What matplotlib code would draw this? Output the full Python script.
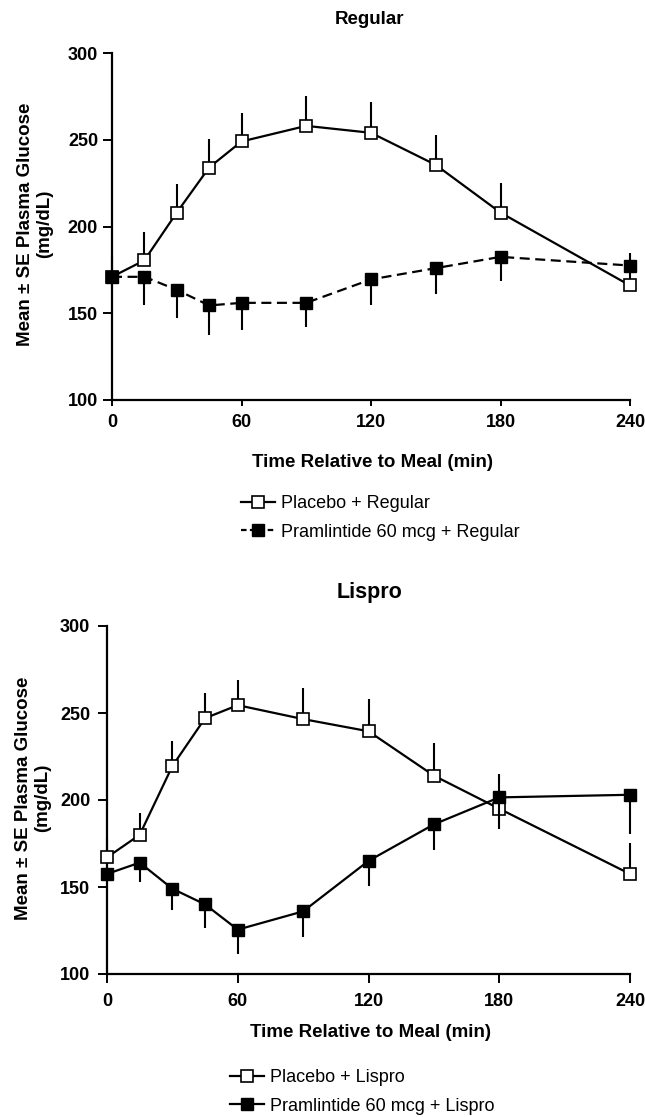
import numpy as np
import matplotlib
matplotlib.use("Agg")
import matplotlib.pyplot as plt
from matplotlib.lines import Line2D

plt.rcParams['font.family'] = ['Liberation Sans', 'DejaVu Sans']

time = np.array([0, 15, 30, 45, 60, 90, 120, 150, 180, 240])

# Regular insulin panel
placebo_reg = np.array([171, 180.5, 208, 234, 249, 258, 254, 235.5, 208, 166])
placebo_reg_se = np.array([12, 16.5, 16.5, 16.5, 16.5, 17, 18, 17, 17, 19])
pram_reg = np.array([171, 171, 163.5, 154.5, 156, 156, 169.5, 176, 182.5, 177.5])
pram_reg_se = np.array([0, 16.5, 16, 17, 15.5, 14, 15, 15, 14, 0])

# Lispro panel
placebo_lis = np.array([167, 180, 219.5, 247, 254.5, 246.5, 239.5, 214, 195, 157.5])
placebo_lis_se = np.array([11, 12.5, 14.5, 14.5, 14.5, 18, 18.5, 19, 20, 18])
pram_lis = np.array([157.5, 164, 149, 140, 125.5, 136, 165, 186, 201.5, 203])
pram_lis_se = np.array([0, 11, 12, 13.5, 14, 15, 14.5, 15, 18, 22.5])

xticks = [0, 60, 120, 180, 240]
yticks = [100, 150, 200, 250, 300]

W, H = 645, 1117
fig = plt.figure(figsize=(W / 100, H / 100), dpi=100)


def panel(rect, placebo, placebo_se, pram, pram_se, pram_ls, tick_len, tick_pad, ytick_pad):
    ax = fig.add_axes(rect)
    zeros = np.zeros_like(placebo)
    ax.errorbar(time, placebo, yerr=[zeros, placebo_se], color='black', lw=1.6,
                elinewidth=1.5, capsize=0, marker='s', ms=8, mfc='white', mec='black',
                mew=1.2, clip_on=False, zorder=3)
    ax.errorbar(time, pram, yerr=[pram_se, zeros], color='black', lw=1.6, ls=pram_ls,
                elinewidth=1.5, capsize=0, marker='s', ms=8, mfc='black', mec='black',
                clip_on=False, zorder=4)
    ax.set_xlim(0, 240)
    ax.set_ylim(100, 300)
    ax.set_xticks(xticks)
    ax.set_yticks(yticks)
    for s in ['top', 'right']:
        ax.spines[s].set_visible(False)
    for s in ['left', 'bottom']:
        ax.spines[s].set_linewidth(1.6)
    ax.tick_params(axis='x', length=tick_len, width=1.4, pad=tick_pad, labelsize=13)
    ax.tick_params(axis='y', length=6.5, width=1.4, pad=ytick_pad, labelsize=13)
    for lab in ax.get_xticklabels() + ax.get_yticklabels():
        lab.set_fontweight('bold')
    return ax


ax1 = panel([112 / W, 1 - 400 / H, (630 - 112) / W, (400 - 53) / H],
            placebo_reg, placebo_reg_se, pram_reg, pram_reg_se, (0, (4.5, 2.5)), 4.3, 5.5, 3.5)
ax2 = panel([107 / W, 1 - 974 / H, (630 - 107) / W, (974 - 626) / H],
            placebo_lis, placebo_lis_se, pram_lis, pram_lis_se, '-', 6.5, 7, 5.5)

ylab = 'Mean \u00b1 SE Plasma Glucose\n(mg/dL)'
fig.text(35 / W, 1 - 224 / H, ylab, rotation=90, ha='center', va='center',
         multialignment='center', fontsize=13.5, fontweight='bold', linespacing=1.1)
fig.text(33 / W, 1 - 798 / H, ylab, rotation=90, ha='center', va='center',
         multialignment='center', fontsize=13.5, fontweight='bold', linespacing=1.1)

fig.text(370 / W, 1 - 24 / H, 'Regular', ha='center', va='baseline', fontsize=13.5, fontweight='bold')
fig.text(370 / W, 1 - 598 / H, 'Lispro', ha='center', va='baseline', fontsize=15.5, fontweight='bold')

fig.text(372 / W, 1 - 467 / H, 'Time Relative to Meal (min)', ha='center', va='baseline',
         fontsize=13.5, fontweight='bold')
fig.text(370 / W, 1 - 1037 / H, 'Time Relative to Meal (min)', ha='center', va='baseline',
         fontsize=13.5, fontweight='bold')


def legend(x, y, labels, pram_ls):
    handles = [
        Line2D([], [], color='black', lw=1.6, marker='s', ms=8, mfc='white', mec='black', mew=1.2),
        Line2D([], [], color='black', lw=1.6, ls=pram_ls, marker='s', ms=8, mfc='black', mec='black'),
    ]
    fig.legend(handles, labels, loc='upper left', bbox_to_anchor=(x / W, 1 - y / H),
               frameon=False, fontsize=13, borderaxespad=0, borderpad=0,
               handlelength=1.9, handletextpad=0.3, labelspacing=0.65)


legend(241, 495, ['Placebo + Regular', 'Pramlintide 60 mcg + Regular'], (0, (2.5, 1.5)))
legend(230, 1069, ['Placebo + Lispro', 'Pramlintide 60 mcg + Lispro'], '-')

fig.savefig('out.png', dpi=100)
